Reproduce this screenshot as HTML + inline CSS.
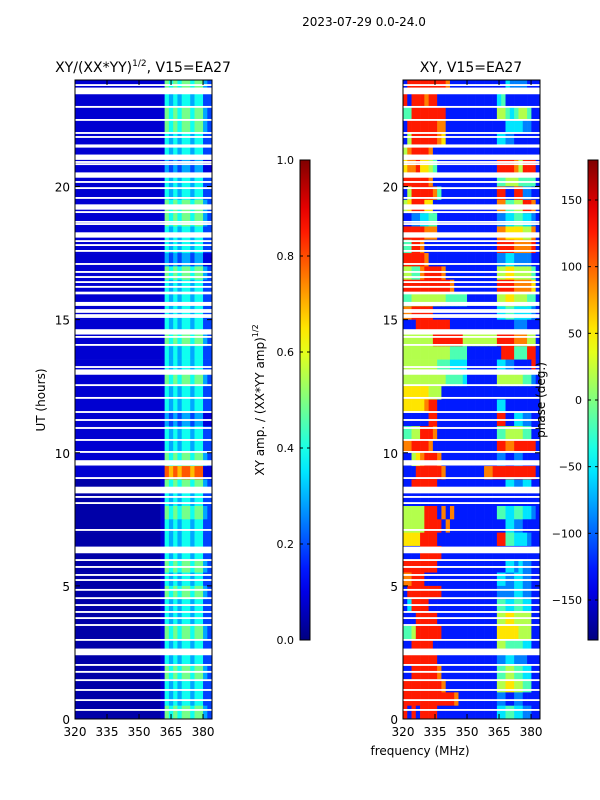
<!DOCTYPE html>
<html><head><meta charset="utf-8"><style>
html,body{margin:0;padding:0;background:#fff;width:600px;height:800px;overflow:hidden}
svg text{font-family:"DejaVu Sans","Liberation Sans",sans-serif;fill:#000}
</style></head><body>
<svg id="fig" width="600" height="800" xmlns="http://www.w3.org/2000/svg">
<text x="364" y="26" font-size="12" text-anchor="middle">2023-07-29 0.0-24.0</text>
<text x="143" y="72" font-size="14" text-anchor="middle">XY/(XX*YY)<tspan dy="-6" font-size="9">1/2</tspan><tspan dy="6">, V15=EA27</tspan></text>
<text x="471" y="72" font-size="14" text-anchor="middle">XY, V15=EA27</text>
<text transform="translate(45,400) rotate(-90)" font-size="12" text-anchor="middle">UT (hours)</text>
<text x="420" y="755" font-size="12" text-anchor="middle">frequency (MHz)</text>
<text transform="translate(264,400) rotate(-90)" font-size="12" text-anchor="middle">XY amp. / (XX*YY amp)<tspan dy="-6" font-size="8">1/2</tspan></text>
<g id="left"></g>
<g id="right"></g>
<g id="cb"></g>
<text transform="translate(545,400) rotate(-90)" font-size="12" text-anchor="middle">phase (deg.)</text>
</svg>
<script>
// ---- data ----
const freqTicks = [320, 335, 350, 365, 380];
const hourTicks = [0, 5, 10, 15, 20];
const ampTicks = [0.0, 0.2, 0.4, 0.6, 0.8, 1.0];
const phaseTicks = [-150, -100, -50, 0, 50, 100, 150];
// flagged (white) times: [hour, thickness in hours]
const gapHours = [23.81,23.59,22.99,22.50,22.01,21.86,21.52,21.10,20.92,20.84,20.43,20.17,19.94,19.57,19.23,19.04,18.67,18.59,18.18,17.95,17.80,17.58,17.09,16.79,16.60,16.41,16.23,16.00,15.59,15.36,15.29,15.17,15.10,14.54,14.35,14.05,13.22,13.03,12.54,12.06,11.53,11.23,10.93,10.48,10.03,9.62,9.05,8.6,8.34,8.11,7.10,6.35,5.97,5.71,5.41,5.22,4.85,4.54,4.28,4.02,3.79,3.53,2.97,2.52,2.03,1.77,1.46,1.09,0.71,0.34];
const gapWidths = [0.07,0.25,0.07,0.07,0.07,0.07,0.12,0.2,0.07,0.07,0.2,0.07,0.07,0.07,0.2,0.07,0.07,0.07,0.2,0.07,0.07,0.07,0.07,0.07,0.07,0.07,0.07,0.1,0.15,0.07,0.07,0.07,0.07,0.2,0.07,0.07,0.07,0.2,0.07,0.07,0.07,0.07,0.07,0.07,0.07,0.2,0.07,0.25,0.07,0.07,0.07,0.25,0.07,0.07,0.07,0.07,0.07,0.07,0.07,0.07,0.07,0.07,0.07,0.25,0.07,0.07,0.07,0.07,0.07,0.07];
// amplitude rows, top (24h) to bottom (0h), half-hour each; digit d -> d/10+0.02
const ampBg = "111111111111111111111111111111000000000000000000";
const ampBlock = ["154545545532","143434434422","154545545532","154545545532","143434434422","143434434422","132323323311","143434434422","143434434422","154545545532","154545545532","143434434422","143434434422","132323323311","154545545532","143434434422","143434434422","143434434422","143434434422","154545545532","143434434422","143434434422","154545545532","143434434422","143434434422","132323323311","143434434422","143434434422","154545545532","187878878811","154545545532","143434434422","154545545532","143434434422","143434434422","143434434422","154545545532","143434434422","154545545532","143434434422","143434434422","154545545532","143434434422","143434434422","154545545532","143434434422","143434434422","154545545532"];
// phase rows, digit d -> -180+(d+0.5)*36 deg
const phaseLow = ["1888888888711111","8188878811111111","4488888888111111","1888888877111111","1588888876111111","5788887111111111","6778665411111111","8888887111111111","1588888741111111","5688866111111111","1122334411111111","8888877711111111","4488711111111111","8888871111111111","5544788887111111","8888888888871111","4455555555444441","7788888111111111","1118888888811111","5555555888888855","5555555555544441","5555555544433331","5555555555444431","6666665551111111","6666678811111111","1111118811111111","4455888711111111","7788887111111111","1156788871111111","1118888887111111","1188888811111111","1111111111111111","5555588817171111","5555588881711111","6666888811111111","1111888881111111","8888888811111111","7788811111111111","1888888881111111","1388881111111111","1118888811111111","4458888881111111","1188888111111111","8888888811111111","1188888871111111","8888888887111111","8888888888887111","8181888811111111"];
const phaseMid = ["111111","111111","111111","111111","111111","111111","111111","111111","111111","111111","111111","111111","111111","111111","111111","111111","111111","111111","111111","555555","111111","111111","111111","111111","111111","111111","111111","111111","111111","111778","111111","111111","111111","111111","111111","111111","111111","111111","111111","111111","111111","111111","111111","111111","111111","111111","111111","111111"];
const phaseHigh = ["1132222111","3411111111","5543455411","1133332211","3322111111","1111111111","8888758881","4455544441","8811882211","7744558871","2233443321","7766665571","8888777781","2233222211","5566555541","8888777761","5566555441","3344333321","1111222111","8888777551","1888444881","3322111181","5555554421","1111111111","3311111111","8811332211","4455554411","8877888881","2211221111","8888888881","1133223311","1111111111","4433443321","1133221111","8844333211","1111111111","1133232211","3322332211","2222332211","4433443311","5566555511","6666655511","5544443311","2233222111","4455443311","5566554411","2211221111","3344332211"];

// ---- helpers ----
const NS = "http://www.w3.org/2000/svg";
function jet(x){x=Math.max(0,Math.min(1,x));const c=v=>Math.round(255*Math.max(0,Math.min(1,1.5-Math.abs(4*x-v))));return `rgb(${c(3)},${c(2)},${c(1)})`;}
function mk(tag,attrs,parent){const e=document.createElementNS(NS,tag);for(const k in attrs)e.setAttribute(k,attrs[k]);parent.appendChild(e);return e;}
const Y0=80,Y1=719,FMIN=320,FMAX=384.2;
const yOf=h=>Y1-(h/24)*(Y1-Y0);
function drawPanel(id,X0,X1,rowFn){
  const g=document.getElementById(id);
  const xOf=f=>X0+(f-FMIN)/(FMAX-FMIN)*(X1-X0);
  const nR=48, rh=(Y1-Y0)/nR;
  for(let r=0;r<nR;r++){
    const cells=rowFn(r);
    for(const c of cells){
      const x0=xOf(c[0]),x1=Math.min(X1,xOf(c[1]));
      const rect=mk('rect',{x:x0.toFixed(2),y:(Y0+r*rh).toFixed(2),width:(x1-x0+0.3).toFixed(2),height:(rh+0.3).toFixed(2),fill:c[2]},g);
      
      
    }
  }
  for(let i=0;i<gapHours.length;i++){
    const hgt=gapWidths[i]*(Y1-Y0)/24;
    const gr=mk('rect',{x:X0,y:(yOf(gapHours[i])-hgt/2).toFixed(2),width:X1-X0,height:hgt.toFixed(2),fill:'#fff'},g);
    
    
  }
  const fr=mk('rect',{x:X0,y:Y0,width:X1-X0,height:Y1-Y0,fill:'none',stroke:'#000','stroke-width':1},g);
  
  
  for(const f of freqTicks){
    const x=xOf(f);
    mk('line',{x1:x,x2:x,y1:Y1,y2:Y1-5,stroke:'#000'},g);
    mk('line',{x1:x,x2:x,y1:Y0,y2:Y0+5,stroke:'#000'},g);
    const t=mk('text',{x:x,y:Y1+17,'font-size':12,'text-anchor':'middle'},g);
    t.textContent=f;
    
    
  }
  for(const h of hourTicks){
    const y=yOf(h);
    mk('line',{x1:X0,x2:X0+5,y1:y,y2:y,stroke:'#000'},g);
    mk('line',{x1:X1,x2:X1-5,y1:y,y2:y,stroke:'#000'},g);
    const t=mk('text',{x:X0-5,y:y+5,'font-size':12,'text-anchor':'end'},g);
    t.textContent=h;
    
    
  }
}
// amplitude panel
drawPanel('left',75,212,r=>{
  const cells=[];
  const bg=+ampBg[r];
  cells.push([320,360,jet(bg*0.04+0.04)]);
  const blk=ampBlock[r];
  for(let i=0;i<blk.length;i++){const f=360+i*2;cells.push([f,f+2.2,jet(+blk[i]/10-0.01)]);}
  return cells;
});
// phase panel
const phaseNorm=d=>((-180+(d+0.5)*36)+180)/360;
drawPanel('right',403,540,r=>{
  const cells=[];
  const parts=[[phaseLow[r],320,352],[phaseMid[r],352,364],[phaseHigh[r],364,384.2]];
  for(const [s,a,b] of parts){const w=(b-a)/s.length;for(let i=0;i<s.length;i++)cells.push([a+i*w,a+(i+1)*w,jet(phaseNorm(+s[i]))]);}
  return cells;
});
// colorbars
const cb=document.getElementById('cb');
const defs=mk('defs',{},cb);
const lg=mk('linearGradient',{id:'jetg',x1:0,y1:1,x2:0,y2:0},defs);
for(let i=0;i<=20;i++)mk('stop',{offset:i/20,'stop-color':jet(i/20)},lg);
function colorbar(x,ticks,vmin,vmax,fmt){
  const w=10,top=160,bot=640;
  const r=mk('rect',{x:x,y:top,width:w,height:bot-top,fill:'url(#jetg)',stroke:'#000','stroke-width':1},cb);
  
  
  for(const v of ticks){
    const y=bot-(v-vmin)/(vmax-vmin)*(bot-top);
    mk('line',{x1:x,x2:x+3,y1:y,y2:y,stroke:'#000'},cb);
    mk('line',{x1:x+w,x2:x+w-3,y1:y,y2:y,stroke:'#000'},cb);
    const t=mk('text',{x:x-6,y:y+4,'font-size':11,'text-anchor':'end'},cb);
    t.textContent=fmt(v);
    
    
  }
}
colorbar(300,ampTicks,0,1,v=>v.toFixed(1));
colorbar(588,phaseTicks,-180,180,v=>v<0?'\u2212'+Math.abs(v):String(v));
</script>
</body></html>
